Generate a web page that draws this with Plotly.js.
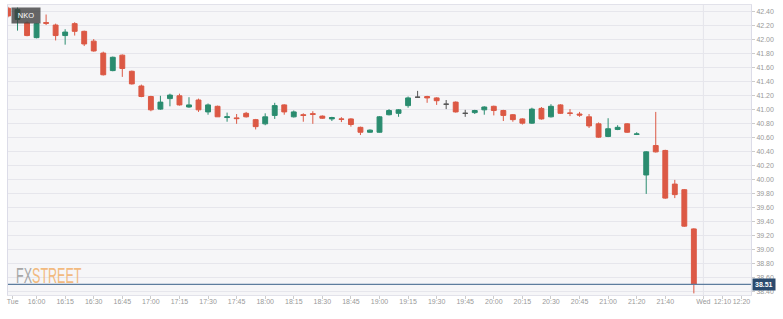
<!DOCTYPE html>
<html>
<head>
<meta charset="utf-8">
<script src="https://cdn.plot.ly/plotly-3.0.1.min.js"></script>
<style>html,body{margin:0;padding:0;background:#fff;}#chart{width:783px;height:319px;}</style>
</head>
<body>
<div id="chart"></div>
<script>
// 5-minute candles (ordinal positions)
const openP  = [42.45,42.29,42.24,42.03,42.245,42.21,42.06,42.23,42.12,41.98,41.81,41.56,41.78,41.55,41.34,41.19,41.01,41.16,41.20,41.04,41.14,40.97,41.05,40.89,40.885,40.95,40.86,40.80,40.92,41.07,40.90,40.93,40.945,40.91,40.87,40.87,40.87,40.75,40.68,40.68,40.93,40.95,41.06,41.18,41.19,41.17,41.08,41.11,40.95,40.96,41.00,41.05,40.99,40.93,40.87,40.81,41.02,40.90,41.07,40.955,40.94,40.90,40.80,40.62,40.72,40.80,40.65,40.07,40.49,40.42,39.94,39.86,39.30];
const highP  = [42.47,42.46,42.26,42.24,42.36,42.23,42.15,42.25,42.13,42.01,41.83,41.76,41.79,41.56,41.36,41.20,41.20,41.23,41.23,41.18,41.16,41.09,41.06,40.96,40.94,40.97,40.87,40.95,41.10,41.08,40.99,40.95,40.98,40.92,40.90,40.895,40.88,40.76,40.72,40.91,41.01,41.01,41.19,41.27,41.20,41.18,41.14,41.12,41.00,41.00,41.05,41.06,41.00,40.94,40.88,41.03,41.04,41.08,41.08,41.01,40.97,40.94,40.82,40.88,40.78,40.81,40.68,40.41,40.97,40.43,40.00,39.87,39.31];
const lowP   = [42.32,42.13,42.05,42.02,42.21,41.99,41.93,42.06,41.91,41.83,41.49,41.55,41.47,41.36,41.18,40.98,41.00,41.05,41.06,41.03,40.97,40.93,40.90,40.83,40.80,40.89,40.72,40.78,40.87,40.93,40.89,40.83,40.80,40.87,40.84,40.825,40.76,40.64,40.675,40.675,40.92,40.90,41.03,41.17,41.10,41.07,41.01,40.96,40.90,40.94,40.93,40.92,40.84,40.83,40.79,40.80,40.86,40.89,40.94,40.91,40.90,40.74,40.60,40.61,40.71,40.67,40.64,39.80,40.39,39.73,39.74,39.33,38.38];
const closeP = [42.34,42.43,42.06,42.23,42.235,42.06,42.11,42.12,41.94,41.84,41.50,41.75,41.59,41.37,41.19,41.00,41.11,41.21,41.07,41.07,41.00,41.07,40.90,40.90,40.875,40.90,40.76,40.90,41.06,40.97,40.97,40.92,40.935,40.88,40.89,40.865,40.79,40.68,40.71,40.90,40.99,41.00,41.17,41.18,41.17,41.13,41.08,40.97,40.95,40.99,41.04,40.99,40.92,40.86,40.81,41.01,40.87,41.05,40.95,40.95,40.925,40.77,40.61,40.73,40.75,40.68,40.655,40.40,40.40,39.74,39.79,39.34,38.51];

// x-axis tick labels at ordinal candle positions
const tickPos  = [0.5,3,6,9,12,15,18,21,24,27,30,33,36,39,42,45,48,51,54,57,60,63,66,69,73,75,77];
const tickText = ['Tue','16:00','16:15','16:30','16:45','17:00','17:15','17:30','17:45','18:00','18:15','18:30','18:45','19:00','19:15','19:30','19:45','20:00','20:15','20:30','20:45','21:00','21:20','21:40','Wed','12:10','12:20'];

const symbol = 'NKO';
const RED = '#dc5945', GREEN = '#2a8c6f', FLAT = '#555555';
const FONT = 'Liberation Sans, Arial, sans-serif';

function subset(pred, color) {
  const idx = openP.map((o, i) => i).filter(i => pred(openP[i], closeP[i]));
  return {
    type: 'candlestick',
    x: idx, open: idx.map(i => openP[i]), high: idx.map(i => highP[i]),
    low: idx.map(i => lowP[i]), close: idx.map(i => closeP[i]),
    increasing: {line: {color: color, width: 1}, fillcolor: color},
    decreasing: {line: {color: color, width: 1}, fillcolor: color},
    whiskerwidth: 0, hoverinfo: 'skip', showlegend: false
  };
}
const traces = [
  subset((o, c) => c > o, GREEN),
  subset((o, c) => c < o, RED),
  subset((o, c) => c === o, FLAT)
];

const lastClose = closeP[closeP.length - 1];
const wedPos = tickPos[tickText.indexOf('Wed')];

const layout = {
  width: 783, height: 319,
  margin: {l: 8, r: 32, t: 5, b: 24, pad: 0},
  paper_bgcolor: '#ffffff', plot_bgcolor: '#f6f6f8',
  showlegend: false, hovermode: false, boxgap: 0.27,
  xaxis: {
    range: [0, 78], rangeslider: {visible: false}, fixedrange: true,
    tickmode: 'array', tickvals: tickPos, ticktext: tickText, tickangle: 0,
    ticks: 'outside', ticklen: 3, tickcolor: '#cccccc', ticklabelstandoff: -3,
    tickfont: {size: 7, color: '#999999', family: FONT},
    showgrid: false, zeroline: false,
    showline: true, linecolor: '#e2e2ea', linewidth: 1, mirror: true
  },
  yaxis: {
    side: 'right', range: [38.357, 42.496], fixedrange: true,
    tick0: 38.4, dtick: 0.2, tickformat: '.2f',
    ticks: 'outside', ticklen: 3, tickcolor: '#cccccc',
    tickfont: {size: 7, color: '#999999', family: FONT},
    gridcolor: '#e6e6ec', gridwidth: 1, zeroline: false,
    showline: true, linecolor: '#dcdce8', linewidth: 1, mirror: true
  },
  shapes: [
    {type: 'line', xref: 'x', yref: 'paper', x0: wedPos, x1: wedPos, y0: 0, y1: 1,
     line: {color: '#e4e4ea', width: 1}, layer: 'below'},
    {type: 'line', xref: 'paper', yref: 'y', x0: 0, x1: 1, y0: lastClose, y1: lastClose,
     line: {color: '#5d7d9e', width: 1.3}}
  ],
  annotations: [
    {xref: 'paper', yref: 'y', x: 1, y: lastClose, xanchor: 'left', yanchor: 'middle',
     xshift: 1, text: '<b>' + lastClose.toFixed(2) + '</b>', showarrow: false,
     bgcolor: '#2b4a6e', borderpad: 2, font: {size: 7, color: '#ffffff', family: FONT}},
    {xref: 'paper', yref: 'paper', x: 0, y: 1, xanchor: 'left', yanchor: 'top',
     xshift: 3, yshift: -2, text: symbol, showarrow: false,
     bgcolor: 'rgba(60,60,60,0.78)', borderpad: 3, width: 22,
     font: {size: 7.5, color: '#ffffff', family: FONT}},
    {xref: 'paper', yref: 'paper', x: 0, y: 0, xanchor: 'left', yanchor: 'bottom',
     xshift: 6, yshift: 5, showarrow: false, opacity: 0.85,
     text: '<span style="color:#9a9a9a">FX</span><span style="color:#f2b06a">STREET</span>',
     font: {size: 22, family: FONT}}
  ]
};

Plotly.newPlot('chart', traces, layout, {displayModeBar: false, staticPlot: true}).then(gd => {
  gd.querySelectorAll('.annotation-text').forEach(n => {
    if (n.textContent === 'FXSTREET') {
      n.style.transformBox = 'fill-box';
      n.style.transformOrigin = 'left bottom';
      n.style.transform = 'scaleX(0.57)';
    }
  });
});
</script>
</body>
</html>
